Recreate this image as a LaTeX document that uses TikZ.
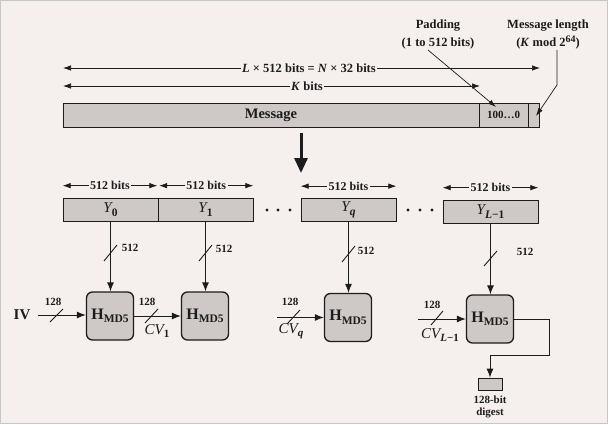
\documentclass[tikz,border=0pt]{standalone}
\usepackage{fontspec}
\setmainfont{Liberation Serif}
\usetikzlibrary{arrows.meta}
\definecolor{bg}{HTML}{F5F0EE}
\definecolor{boxfill}{HTML}{CEC8C7}
\definecolor{ink}{HTML}{1C1C1C}
\newcommand\itsub[3][11.5]{{\mdseries\itshape #2}\raisebox{-3.5pt}{\fontsize{#1}{#1}\selectfont #3}}
\newcommand\hmdlabel{{\fontsize{16}{16}\selectfont H}\raisebox{-3.5pt}{\fontsize{11.5}{11.5}\selectfont MD5}}
\begin{document}
\begin{tikzpicture}[x=1pt,y=-1pt,
  every node/.style={text=ink},
  toplab/.style={font=\fontsize{12.5}{18}\selectfont\bfseries, align=center, inner sep=0pt},
  bits/.style={font=\fontsize{12}{12}\selectfont\bfseries, fill=bg, inner sep=1.5pt},
  num/.style={font=\fontsize{11}{11}\selectfont\bfseries, inner sep=0pt},
  cvlab/.style={font=\fontsize{15}{15}\selectfont\bfseries, inner sep=0pt},
  bar/.style={draw=ink, fill=boxfill, line width=0.6pt, minimum height=24pt, inner sep=0pt},
  seg/.style={draw=ink, fill=boxfill, line width=0.7pt, minimum width=95pt, minimum height=23pt, inner sep=0pt, font=\fontsize{15}{15}\selectfont\bfseries},
  hbox/.style={draw=ink, fill=boxfill, line width=1.3pt, rounded corners=6pt, minimum width=47pt, minimum height=48pt, inner sep=0pt, font=\bfseries},
  arr/.style={draw=ink, line width=1pt, -{Latex[length=9pt,width=7pt]}},
  thin arr/.style={draw=ink, line width=0.7pt, -{Latex[length=8pt,width=5pt]}},
  darr/.style={draw=ink, line width=0.7pt, {Latex[length=8pt,width=5.5pt]}-{Latex[length=8pt,width=5.5pt]}},
  slash/.style={draw=ink, line width=0.9pt}
]
\fill[bg] (0,0) rectangle (608,424);
\draw[gray!45, line width=1.2pt] (0.6,0.6) rectangle (607.4,423.4);

% top labels
\node[toplab] (padlab) at (438,34) {Padding\\(1 to 512 bits)};
\node[toplab] (lenlab) at (548,34) {Message length\\(\textit{K} mod 2\raisebox{4pt}{\fontsize{10}{10}\selectfont 64})};

% message bar
\node[bar, minimum width=416pt, font=\fontsize{14.5}{14.5}\selectfont\bfseries] (msg) at (271,115) {Message};
\node[bar, minimum width=49pt, font=\fontsize{11}{11}\selectfont\bfseries] (pad) at (503.5,115) {100\ldots0};
\node[bar, minimum width=11pt] (len) at (533.5,115) {};

% span arrows
\coordinate (aL) at (63,68); \coordinate (aR) at (540,68);
\draw[darr] (aL) -- (aR);
\node[bits, font=\fontsize{12.5}{12.5}\selectfont\bfseries] (alab) at (309,68) {\textit{L} × 512 bits = \textit{N} × 32 bits};
\coordinate (kL) at (63,86); \coordinate (kR) at (480,86);
\draw[darr] (kL) -- (kR);
\node[bits, font=\fontsize{12.5}{12.5}\selectfont\bfseries] (klab) at (307,86) {\textit{K} bits};

% pointers
\coordinate (padS) at (428,50); \coordinate (padT) at (496,107);
\draw[thin arr] (padS) -- (padT);
\coordinate (lenS) at (557,50); \coordinate (lenM) at (557,85); \coordinate (lenT) at (536,116);
\draw[thin arr] (lenS) -- (lenM) -- (lenT);

% big arrow
\coordinate (bigT) at (301,133); \coordinate (bigB) at (301,173);
\draw[ink, line width=3pt, -{Triangle[length=15pt,width=13pt]}] (bigT) -- (bigB);

% blocks
\node[seg] (y0) at (110.5,209.5) {\itsub{Y}{0}};
\node[seg] (y1) at (205.5,209.5) {\itsub{Y}{1}};
\node[seg] (yq) at (348.5,210) {\itsub{Y}{\textit{q}}};
\node[seg] (yl) at (490.5,211.5) {\itsub{Y}{\textit{L}−1}};

\draw[darr] ([yshift=12pt]y0.north west) -- node[bits] (b0) {512 bits} ([yshift=12pt,xshift=-1pt]y0.north east);
\draw[darr] ([yshift=12pt,xshift=1.5pt]y1.north west) -- node[bits] (b1) {512 bits} ([yshift=12pt]y1.north east);
\draw[darr] ([yshift=12pt]yq.north west) -- node[bits] (bq) {512 bits} ([yshift=12pt]yq.north east);
\draw[darr] ([yshift=12pt]yl.north west) -- node[bits] (bl) {512 bits} ([yshift=12pt]yl.north east);

% dots
\foreach \x in {267,278,290,408,420,432} \fill[ink] (\x,210) circle (1.7);

% H boxes
\node[hbox] (h1) at (110,316) {\hmdlabel};
\node[hbox] (h2) at (205,316) {\hmdlabel};
\node[hbox] (hq) at (348,317.5) {\hmdlabel};
\node[hbox] (hl) at (490,319) {\hmdlabel};

% vertical arrows
\draw[arr] (y0.south) -- (y0.south |- h1.north);
\draw[arr] (y1.south) -- (y1.south |- h2.north);
\draw[arr] (yq.south) -- (yq.south |- hq.north);
\draw[arr] (yl.south) -- (yl.south |- hl.north);
\draw[slash] (104,261) -- (117,245);
\draw[slash] (199,261) -- (212,245);
\draw[slash] (342,262) -- (355,246);
\draw[slash] (484,266) -- (497,251);
\node[num] (n0) at (130,248) {512};
\node[num] (n1) at (224,249) {512};
\node[num] (nq) at (366,251) {512};
\node[num] (nl) at (525,252) {512};

% chaining
\node[font=\fontsize{15}{15}\selectfont\bfseries, inner sep=0pt] (iv) at (22,315) {IV};
\draw[arr] ([xshift=7pt]iv.east) -- (iv.east -| h1.west);
\draw[slash] (50,322) -- (63,309);
\node[num] (c0) at (53,302) {128};

\draw[arr] (h1.east) -- (h1.east -| h2.west);
\draw[slash] (145,323) -- (158,309);
\node[num] (c1) at (147,302) {128};
\node[cvlab] (cv1) at (157,331) {\itsub[11]{CV}{1}};

\coordinate (cvqS) at (277,317.5);
\draw[arr] (cvqS) -- (hq.west);
\draw[slash] (287,324) -- (300,310);
\node[num] (cq) at (290,302) {128};
\node[cvlab] (cvq) at (291,331) {\itsub[11]{CV}{\textit{q}}};

\coordinate (cvlS) at (418,319);
\draw[arr] (cvlS) -- (hl.west);
\draw[slash] (431,325) -- (443,311);
\node[num] (cl) at (432,305) {128};
\node[cvlab] (cvl) at (440,335) {\itsub[11]{CV}{\textit{L}−1}};

% output
\node[draw=ink, fill=boxfill, line width=0.7pt, minimum width=24pt, minimum height=12pt, inner sep=0pt] (dig) at (490,384) {};
\node[font=\fontsize{11}{12.5}\selectfont\bfseries, align=center, inner sep=0pt] (diglab) at (490,407) {128-bit\\digest};
\coordinate (o1) at (549,319); \coordinate (o2) at (549,355);
\draw[arr] (hl.east) -- (o1) -- (o2) -- (o2 -| dig.north) -- (dig.north);
\end{tikzpicture}
\end{document}
